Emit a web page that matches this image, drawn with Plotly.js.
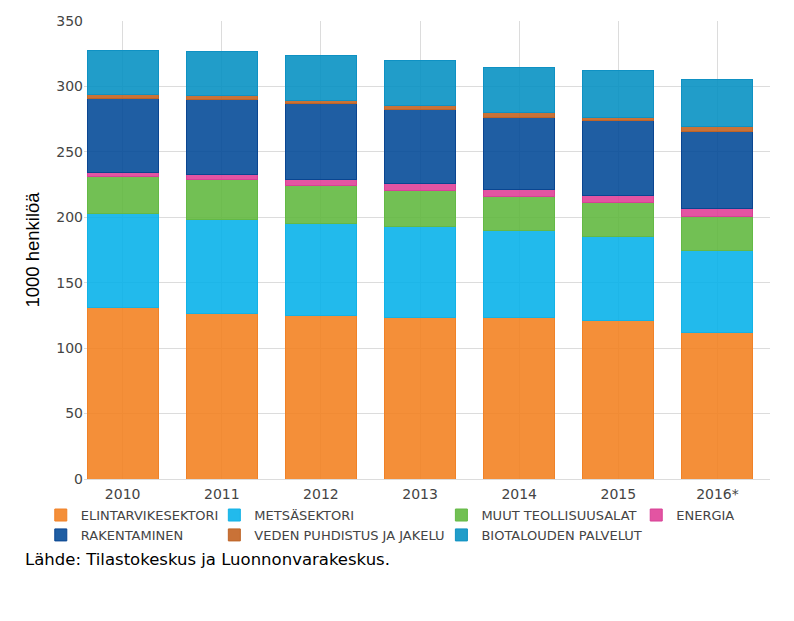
<!DOCTYPE html>
<html>
<head>
<meta charset="utf-8">
<script src="https://cdn.plot.ly/plotly-3.0.1.min.js"></script>
<style>html,body{margin:0;padding:0;background:#fff;}#chart{width:794px;height:621px;}</style>
</head>
<body>
<div id="chart"></div>
<script>
// Categories (years)
const years = ["2010", "2011", "2012", "2013", "2014", "2015", "2016*"];

// Series values (1000 persons)
const elintarvikesektori = [130.9, 126.1, 125.1, 123.7, 123.8, 121.5, 112.1];
const metsasektori       = [71.8, 72.3, 70.3, 69.3, 66.2, 64.2, 62.9];
const muutTeollisuusalat = [28.8, 30.1, 29.0, 27.8, 26.0, 25.4, 25.4];
const energia            = [3.1, 4.0, 4.8, 5.2, 5.3, 5.9, 6.2];
const rakentaminen       = [56.3, 57.7, 57.4, 56.2, 55.1, 56.8, 59.3];
const vedenPuhdistus     = [3.1, 2.5, 3.0, 3.1, 3.3, 2.8, 3.1];
const biotaloudenPalvelut= [33.1, 33.9, 34.4, 34.7, 34.6, 35.9, 36.4];

const seriesNames = ["ELINTARVIKESEKTORI", "METSÄSEKTORI", "MUUT TEOLLISUUSALAT", "ENERGIA",
                     "RAKENTAMINEN", "VEDEN PUHDISTUS JA JAKELU", "BIOTALOUDEN PALVELUT"];
const seriesValues = [elintarvikesektori, metsasektori, muutTeollisuusalat, energia,
                      rakentaminen, vedenPuhdistus, biotaloudenPalvelut];
const fillColors = ["rgba(243,128,30,0.88)", "rgba(3,177,233,0.88)", "rgba(94,183,60,0.88)", "rgba(223,60,149,0.88)",
                    "rgba(0,72,150,0.88)", "rgba(194,94,27,0.88)", "rgba(2,144,194,0.88)"];
const lineColors = ["rgb(240,130,40)", "rgb(20,178,230)", "rgb(100,185,70)", "rgb(215,65,150)",
                    "rgb(10,70,145)", "rgb(190,100,40)", "rgb(15,145,195)"];
const legendIds = ["legend", "legend2", "legend3", "legend4", "legend", "legend2", "legend3"];

const traces = seriesNames.map((name, i) => ({
  type: "bar",
  name: name,
  x: years,
  y: seriesValues[i],
  legend: legendIds[i],
  legendgroup: "g" + i,
  marker: { color: fillColors[i], line: { color: lineColors[i], width: 1 } },
  hovertemplate: "%{x}<br>" + name + ": %{y}<extra></extra>"
}));

const legendFont = { family: "DejaVu Sans, Verdana, sans-serif", size: 13, color: "#444" };
function legendAt(x) {
  return { x: x, y: -0.046, xanchor: "left", yanchor: "top", orientation: "v",
           traceorder: "normal", tracegroupgap: 2, font: legendFont, bgcolor: "rgba(0,0,0,0)",
           itemclick: "toggle" };
}

const layout = {
  width: 794, height: 621,
  margin: { l: 84, r: 24, t: 21, b: 142 },
  paper_bgcolor: "#fff", plot_bgcolor: "#fff",
  barmode: "stack",
  bargap: 0.284,
  font: { family: "DejaVu Sans, Verdana, sans-serif", size: 14, color: "#444" },
  xaxis: {
    type: "category",
    range: [-0.39, 6.53],
    showgrid: true, gridcolor: "#dcdcdc", gridwidth: 1,
    showline: false, zeroline: false, ticks: "",
    tickfont: { family: "DejaVu Sans, Verdana, sans-serif", size: 14, color: "#444" },
    ticklabelstandoff: 5
  },
  yaxis: {
    range: [0, 350],
    dtick: 50,
    showgrid: true, gridcolor: "#dcdcdc", gridwidth: 1,
    zeroline: true, zerolinecolor: "#dcdcdc", zerolinewidth: 1,
    showline: false, ticks: "",
    tickfont: { family: "DejaVu Sans, Verdana, sans-serif", size: 14, color: "#444" },
    title: { text: "1000 henkilöä", font: { family: "Liberation Sans, Arial, sans-serif", size: 18.5, color: "#000" }, standoff: 11 }
  },
  legend: legendAt(-0.063),
  legend2: legendAt(0.19),
  legend3: legendAt(0.521),
  legend4: legendAt(0.805),
  annotations: [{
    xref: "paper", yref: "paper",
    x: -0.089, y: -0.175, xanchor: "left", yanchor: "middle",
    text: "Lähde: Tilastokeskus ja Luonnonvarakeskus.",
    showarrow: false,
    font: { family: "DejaVu Sans, Verdana, sans-serif", size: 16.5, color: "#000" }
  }]
};

Plotly.newPlot("chart", traces, layout, { displayModeBar: false, responsive: false });
</script>
</body>
</html>
